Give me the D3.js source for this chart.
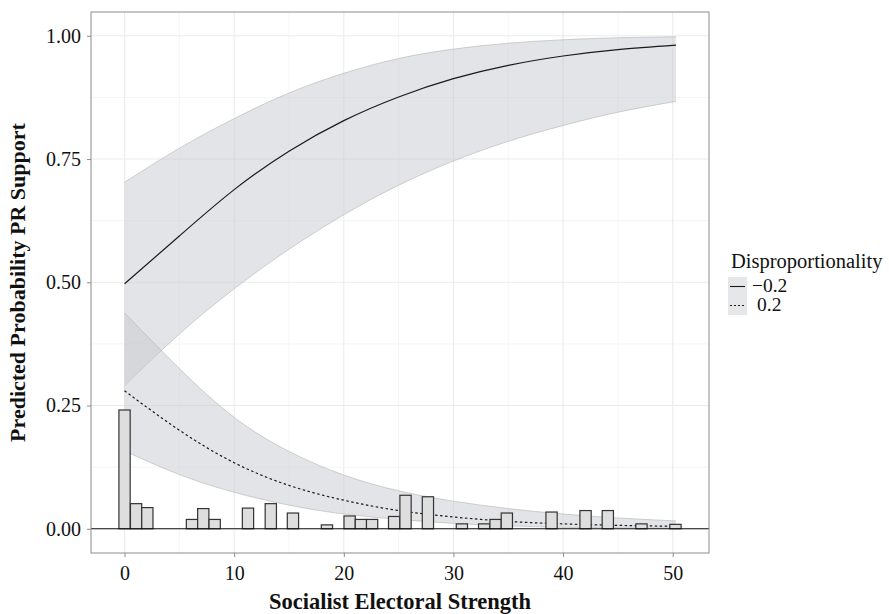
<!DOCTYPE html>
<html><head><meta charset="utf-8">
<script src="https://cdn.jsdelivr.net/npm/d3@7"></script>
<style>body{margin:0;background:#fff}svg{display:block}text{font-family:"Liberation Serif","Times New Roman",serif;fill:#111}</style>
</head><body>
<svg id="c" width="889" height="614"></svg>
<script>
// ---- data ----
const curveX = [0, 5, 10, 15, 20, 25, 30, 35, 40, 45, 50.3];
const fitNeg = [0.497, 0.594, 0.688, 0.766, 0.828, 0.876, 0.913, 0.940, 0.959, 0.972, 0.981];
const lowNeg = [0.290, 0.395, 0.487, 0.567, 0.637, 0.697, 0.746, 0.786, 0.818, 0.845, 0.867];
const uppNeg = [0.703, 0.772, 0.832, 0.884, 0.924, 0.954, 0.973, 0.985, 0.992, 0.996, 0.998];
const fitPos = [0.280, 0.200, 0.134, 0.088, 0.058, 0.037, 0.024, 0.015, 0.010, 0.007, 0.005];
const lowPos = [0.158, 0.110, 0.074, 0.048, 0.030, 0.019, 0.011, 0.006, 0.003, 0.002, 0.001];
const uppPos = [0.438, 0.325, 0.226, 0.157, 0.109, 0.077, 0.056, 0.041, 0.030, 0.022, 0.016];
const binCenters = [0, 1.05, 2.08, 6.15, 7.18, 8.22, 11.26, 13.34, 15.36, 18.46, 20.53, 21.56, 22.58, 24.59, 25.63, 27.67, 30.77, 32.8, 33.84, 34.87, 38.95, 42.05, 44.08, 47.15, 50.25];
const binHeights = [0.241, 0.051, 0.043, 0.019, 0.041, 0.019, 0.042, 0.051, 0.032, 0.008, 0.026, 0.019, 0.019, 0.025, 0.068, 0.065, 0.010, 0.010, 0.019, 0.032, 0.034, 0.037, 0.037, 0.010, 0.009];
const binWidth = 1.027;
const xTicks = [0, 10, 20, 30, 40, 50];
const yTicks = [0, 0.25, 0.5, 0.75, 1.0];
const xMinor = [5, 15, 25, 35, 45];
const yMinor = [0.125, 0.375, 0.625, 0.875];
const legendLabels = ["\u22120.2", "0.2"];
const xTitle = "Socialist Electoral Strength";
const yTitle = "Predicted Probability PR Support";
const legendTitle = "Disproportionality";

// ---- layout ----
const L = 91, R = 709, T = 12, B = 553;
const x = d3.scaleLinear().domain([-3.06, 53.31]).range([L, R]);
const y = d3.scaleLinear().domain([-0.0491, 1.0483]).range([B, T]);
const svg = d3.select("#c");

// grid
const g = svg.append("g");
g.selectAll(".xm").data(xMinor).join("line").attr("x1", d => x(d)).attr("x2", d => x(d)).attr("y1", T).attr("y2", B).attr("stroke", "#f3f3f3").attr("stroke-width", 0.8);
g.selectAll(".ym").data(yMinor).join("line").attr("y1", d => y(d)).attr("y2", d => y(d)).attr("x1", L).attr("x2", R).attr("stroke", "#f3f3f3").attr("stroke-width", 0.8);
g.selectAll(".xM").data(xTicks).join("line").attr("x1", d => x(d)).attr("x2", d => x(d)).attr("y1", T).attr("y2", B).attr("stroke", "#ebebeb").attr("stroke-width", 1.1);
g.selectAll(".yM").data(yTicks).join("line").attr("y1", d => y(d)).attr("y2", d => y(d)).attr("x1", L).attr("x2", R).attr("stroke", "#ebebeb").attr("stroke-width", 1.1);

// ribbons
const idx = d3.range(curveX.length);
const ribbons = [[lowNeg, uppNeg], [lowPos, uppPos]];
const curve = d3.curveNatural;
ribbons.forEach(([lo, hi]) => {
  svg.append("path").datum(idx)
    .attr("d", d3.area().x(i => x(curveX[i])).y0(i => y(lo[i])).y1(i => y(hi[i])).curve(curve))
    .attr("fill", "rgb(200,202,207)").attr("fill-opacity", 0.5);
  [lo, hi].forEach(arr => svg.append("path").datum(idx)
    .attr("d", d3.line().x(i => x(curveX[i])).y(i => y(arr[i])).curve(curve))
    .attr("fill", "none").attr("stroke", "#b4b4b4").attr("stroke-width", 0.6));
});

// fitted lines
svg.append("path").datum(idx)
  .attr("d", d3.line().x(i => x(curveX[i])).y(i => y(fitNeg[i])).curve(curve))
  .attr("fill", "none").attr("stroke", "#1a1a1a").attr("stroke-width", 1.2);
svg.append("path").datum(idx)
  .attr("d", d3.line().x(i => x(curveX[i])).y(i => y(fitPos[i])).curve(curve))
  .attr("fill", "none").attr("stroke", "#1a1a1a").attr("stroke-width", 1.2).attr("stroke-dasharray", "2.5,2.5");

// histogram bars
svg.selectAll(".bar").data(binCenters).join("rect")
  .attr("x", (d) => x(d - binWidth / 2))
  .attr("width", (d) => x(d + binWidth / 2) - x(d - binWidth / 2))
  .attr("y", (d, i) => y(binHeights[i]))
  .attr("height", (d, i) => y(0) - y(binHeights[i]))
  .attr("fill", "#dedede").attr("stroke", "#333").attr("stroke-width", 1.2);

// zero line
svg.append("line").attr("x1", L).attr("x2", R).attr("y1", y(0)).attr("y2", y(0)).attr("stroke", "#111").attr("stroke-width", 1.1);

// panel border
svg.append("rect").attr("x", L).attr("y", T).attr("width", R - L).attr("height", B - T).attr("fill", "none").attr("stroke", "#8c8c8c").attr("stroke-width", 1);

// axes
const xAxis = svg.append("g").attr("transform", `translate(0,${B})`)
  .call(d3.axisBottom(x).tickValues(xTicks).tickSize(4).tickPadding(9).tickFormat(d3.format("d")));
const yAxis = svg.append("g").attr("transform", `translate(${L},0)`)
  .call(d3.axisLeft(y).tickValues(yTicks).tickSize(4).tickPadding(6).tickFormat(d3.format(".2f")));
[xAxis, yAxis].forEach(a => {
  a.select(".domain").remove();
  a.selectAll(".tick line").attr("stroke", "#8c8c8c");
  a.selectAll(".tick text").attr("font-family", "Liberation Serif, serif").attr("font-size", 20).attr("fill", "#222");
});

// titles
svg.append("text").attr("x", (L + R) / 2).attr("y", 609).attr("text-anchor", "middle")
  .attr("font-size", 22.5).attr("font-weight", "bold").text(xTitle);
svg.append("text").attr("transform", `translate(25,${(T + B) / 2}) rotate(-90)`).attr("text-anchor", "middle")
  .attr("font-size", 22).attr("font-weight", "bold").text(yTitle);

// legend
svg.append("text").attr("x", 731).attr("y", 268).attr("font-size", 20.5).text(legendTitle);
const dashes = [null, "2,2"];
const labelX = [752, 757];
legendLabels.forEach((lab, i) => {
  const ky = 277 + i * 19;
  svg.append("rect").attr("x", 728).attr("y", ky).attr("width", 19).attr("height", 19)
    .attr("fill", "rgb(200,202,207)").attr("fill-opacity", 0.45);
  const ln = svg.append("line").attr("x1", 730).attr("x2", 745).attr("y1", ky + 9.5).attr("y2", ky + 9.5)
    .attr("stroke", "#1a1a1a").attr("stroke-width", 1.1);
  if (dashes[i]) ln.attr("stroke-dasharray", dashes[i]);
  svg.append("text").attr("x", labelX[i]).attr("y", ky + 15).attr("font-size", 19.5).text(lab);
});
</script>
</body></html>
